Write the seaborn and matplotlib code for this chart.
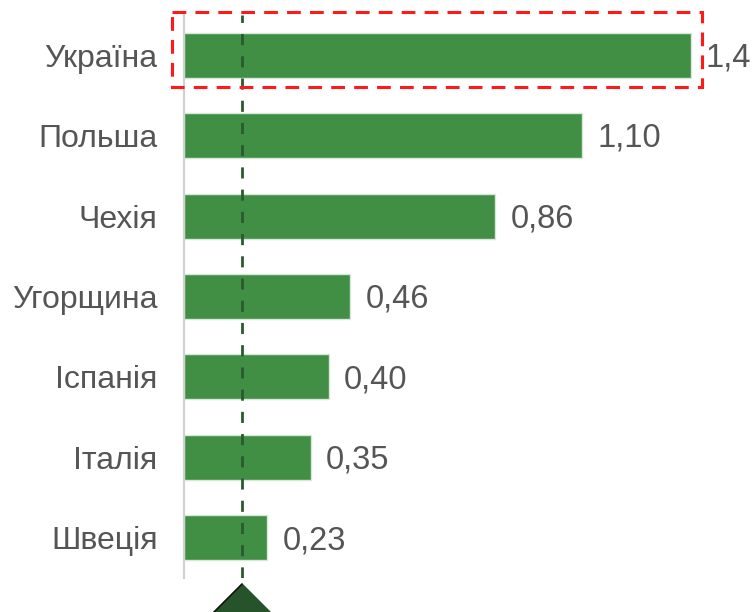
import matplotlib
matplotlib.use("Agg")
import matplotlib.pyplot as plt
import matplotlib.transforms as mtransforms
from matplotlib.patches import Rectangle
import seaborn as sns
import pandas as pd

countries = ["Україна", "Польша", "Чехія", "Угорщина", "Іспанія", "Італія", "Швеція"]
values = [1.4, 1.10, 0.86, 0.46, 0.40, 0.35, 0.23]
value_labels = ["1,4", "1,10", "0,86", "0,46", "0,40", "0,35", "0,23"]
reference_value = 0.16

sns.set_theme(style="white")
plt.rcParams["font.family"] = ["Liberation Sans", "DejaVu Sans"]

df = pd.DataFrame({"country": countries, "value": values})

fig = plt.figure(figsize=(7.53, 6.12), dpi=100)
ax = fig.add_axes([184 / 753, 34 / 612, (753 - 184) / 753, 563 / 612])

bar_color = "#418f45"
sns.barplot(data=df, x="value", y="country", orient="h", color=bar_color,
            saturation=1, width=0.56, edgecolor="#d9e6d9", linewidth=1.0, ax=ax)

ax.set_xlim(0, (753 - 184) / 361.8)
ax.set_ylim(len(countries) - 0.5, -0.5)
ax.set_xlabel("")
ax.set_ylabel("")
ax.set_xticks([])
for s in ["top", "right", "bottom"]:
    ax.spines[s].set_visible(False)
ax.spines["left"].set_color("#d0d0d0")
ax.spines["left"].set_linewidth(1.5)
ax.tick_params(axis="y", length=0, pad=19, labelsize=23, labelcolor="#555555")

for i, (v, lab) in enumerate(zip(values, value_labels)):
    ax.annotate(lab, xy=(v, i), xytext=(11, -2), textcoords="offset points",
                va="center", ha="left", fontsize=23.5, color="#555555",
                annotation_clip=False)

# reference dashed line
ax.axvline(reference_value, color="#2a5a2e", linestyle=(0, (4, 4)), linewidth=2.0,
           ymin=0, ymax=1, zorder=5)

# triangle marker below the axis
trans = mtransforms.blended_transform_factory(ax.transData, ax.transAxes)
ax.plot([reference_value], [-0.009], marker=[(0, 0), (-1, -1), (1, -1)],
        markersize=50, color="#27532a", markeredgecolor="#111111",
        markeredgewidth=1.2, transform=trans, clip_on=False, zorder=6)

# red dashed highlight around the first bar
rect = Rectangle((-0.033, -0.537), 1.465, 0.933, fill=False, edgecolor="#ff1a1a",
                 linewidth=2.2, linestyle=(0, (4.5, 3)), clip_on=False, zorder=6)
ax.add_patch(rect)

fig.savefig("out.png", dpi=100)
